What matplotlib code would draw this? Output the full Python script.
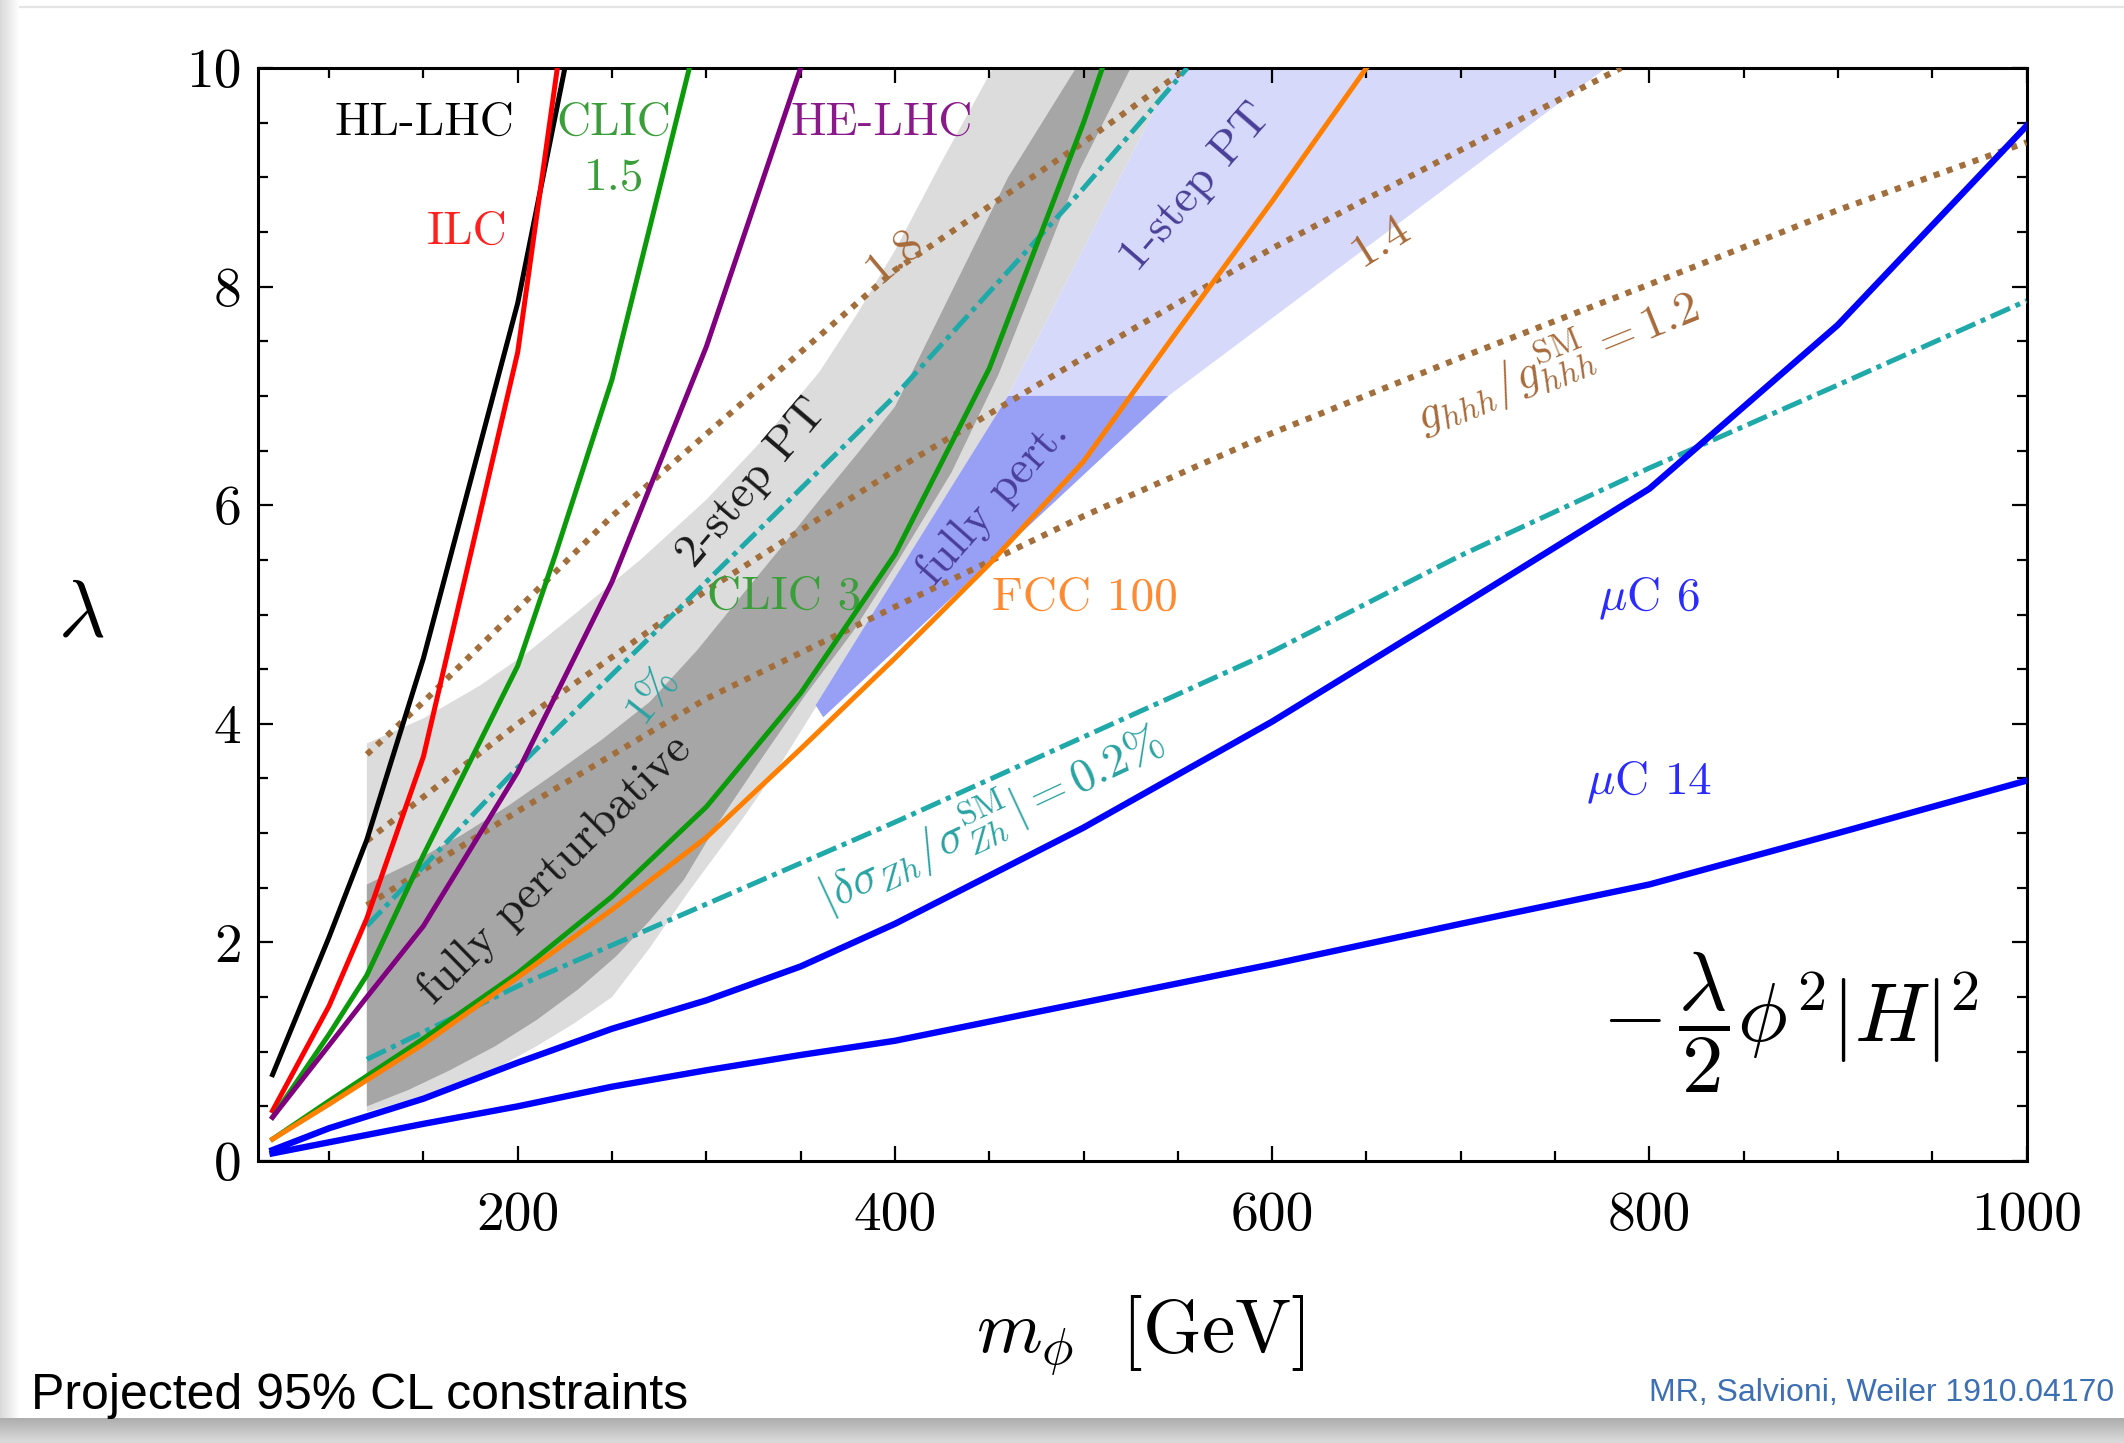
import numpy as np
import matplotlib
matplotlib.use("Agg")
import matplotlib.pyplot as plt
from matplotlib.ticker import MultipleLocator

plt.rcParams['font.family'] = 'cmr10'
plt.rcParams['mathtext.fontset'] = 'cm'
plt.rcParams['axes.formatter.use_mathtext'] = True
plt.rcParams['axes.unicode_minus'] = False

# ---- projected 95% CL bounds: m_phi [GeV] vs lambda ----
m_hllhc = [70, 100, 120, 150, 200, 225]
lam_hllhc = [0.79, 2.05, 2.94, 4.6, 7.85, 10.0]

m_ilc = [70, 100, 120, 150, 200, 221]
lam_ilc = [0.46, 1.42, 2.22, 3.7, 7.4, 10.0]

m_clic15 = [70, 100, 120, 150, 200, 220, 250, 291]
lam_clic15 = [0.4, 1.16, 1.7, 2.8, 4.53, 5.55, 7.15, 10.0]

m_helhc = [70, 120, 150, 200, 250, 300, 350]
lam_helhc = [0.4, 1.5, 2.15, 3.56, 5.3, 7.45, 10.0]

m_clic3 = [70, 100, 150, 200, 250, 300, 350, 400, 450, 500, 510]
lam_clic3 = [0.2, 0.55, 1.12, 1.72, 2.42, 3.24, 4.28, 5.55, 7.25, 9.5, 10.0]

m_fcc = [70, 100, 150, 200, 250, 300, 350, 400, 450, 500, 550, 600, 650]
lam_fcc = [0.2, 0.52, 1.07, 1.68, 2.3, 2.96, 3.77, 4.6, 5.46, 6.4, 7.6, 8.78, 10.0]

m_muc6 = [70, 100, 150, 200, 250, 300, 350, 400, 500, 600, 700, 800, 900, 1000]
lam_muc6 = [0.1, 0.3, 0.57, 0.9, 1.21, 1.47, 1.78, 2.17, 3.05, 4.02, 5.08, 6.15, 7.65, 9.47]

m_muc14 = [70, 150, 200, 250, 300, 350, 400, 500, 600, 700, 800, 900, 1000]
lam_muc14 = [0.07, 0.34, 0.5, 0.68, 0.83, 0.97, 1.1, 1.45, 1.8, 2.17, 2.53, 3.0, 3.48]

# sigma_Zh contours
m_zh1 = [120, 200, 300, 400, 500, 555]
lam_zh1 = [2.15, 3.6, 5.3, 7.0, 8.9, 10.0]
m_zh02 = [120, 150, 200, 300, 400, 500, 600, 700, 800, 900, 1000]
lam_zh02 = [0.93, 1.18, 1.6, 2.35, 3.1, 3.88, 4.66, 5.54, 6.34, 7.1, 7.87]

# g_hhh / g_hhh^SM contours
m_g18 = [120, 150, 200, 250, 300, 400, 500, 555]
lam_g18 = [3.72, 4.2, 5.05, 5.9, 6.65, 8.15, 9.32, 10.0]
m_g14 = [120, 200, 300, 400, 500, 600, 700, 785]
lam_g14 = [2.93, 4.0, 5.22, 6.32, 7.35, 8.35, 9.25, 10.0]
m_g12 = [120, 200, 300, 400, 500, 600, 700, 800, 900, 1000]
lam_g12 = [2.34, 3.2, 4.23, 5.07, 5.9, 6.66, 7.35, 8.02, 8.7, 9.32]

# regions
twostep_up_m = [120, 120, 150, 180, 205, 230, 265, 300, 330, 360, 380, 400, 425, 452]
twostep_up_lam = [0.45, 3.82, 4.05, 4.35, 4.65, 5.0, 5.5, 6.05, 6.6, 7.22, 7.75, 8.33, 9.15, 10.0]
twostep_right_m = [549, 460, 358]
twostep_right_lam = [10.0, 7.0, 4.15]
twostep_low_m = [120, 145, 165, 190, 210, 230, 250, 270, 290, 305, 320, 340]
twostep_low_lam = [0.45, 0.57, 0.68, 0.86, 1.05, 1.26, 1.5, 1.95, 2.45, 2.8, 3.15, 3.65]

fp_up_m = [120, 120, 145, 170, 195, 220, 245, 270, 295, 320, 340, 360, 380, 400, 430, 460, 496]
fp_up_lam = [0.5, 2.53, 2.74, 2.98, 3.25, 3.55, 3.86, 4.2, 4.67, 5.2, 5.62, 6.05, 6.47, 6.9, 7.95, 9.0, 10.0]
fp_low_m = [120, 142, 164, 188, 210, 232, 252, 270, 288, 305, 328, 352, 378, 402, 430, 455, 479, 498, 525]
fp_low_lam = [0.5, 0.65, 0.83, 1.05, 1.29, 1.57, 1.87, 2.2, 2.57, 3.06, 3.65, 4.25, 4.85, 5.5, 6.3, 7.2, 8.24, 9.07, 10.0]

onestep_m = [460, 549, 777, 545]
onestep_lam = [7.0, 10.0, 10.0, 7.0]
fullypert_m = [358, 460, 545, 362]
fullypert_lam = [4.17, 7.0, 7.0, 4.06]

xtick_vals = [200, 400, 600, 800, 1000]
ytick_vals = [0, 2, 4, 6, 8, 10]

W, H = 2124, 1443
fig = plt.figure(figsize=(W / 200, H / 200), dpi=200)

# card background with soft shadow
bg = fig.add_axes([0, 0, 1, 1], zorder=-5)
bg.imshow(np.linspace(0.85, 1.0, 20)[None, :], cmap='gray', vmin=0, vmax=1,
          extent=[0, 20, H, 0], aspect='auto')
bg.imshow(np.linspace(0.68, 0.86, 28)[:, None], cmap='gray', vmin=0, vmax=1,
          extent=[0, W, H, H - 25], aspect='auto')
bg.plot([20, W], [7, 7], color='#e4e4e4', lw=0.8)
bg.set_xlim(0, W)
bg.set_ylim(H, 0)
bg.axis('off')

ax = fig.add_axes([0.12166, 0.19542, 0.83244, 0.75746])

ax.fill(twostep_up_m + twostep_right_m + twostep_low_m[::-1],
        twostep_up_lam + twostep_right_lam + twostep_low_lam[::-1],
        color='#dcdcdc', lw=0, zorder=1)
ax.fill(fp_up_m + fp_low_m[::-1], fp_up_lam + fp_low_lam[::-1],
        color='#a6a6a6', lw=0, zorder=1.2)
ax.fill(onestep_m, onestep_lam, color='#d6d9fa', lw=0, zorder=1)
ax.fill(fullypert_m, fullypert_lam, color='#98a0f6', lw=0, zorder=1.3)

dot = (0, (1, 1.25))
dashdot = (0, (4.2, 1.2, 1.0, 1.2))
brown = '#a26e3c'
cyan = '#1fa9a9'
for m, l in [(m_g18, lam_g18), (m_g14, lam_g14), (m_g12, lam_g12)]:
    ax.plot(m, l, color=brown, lw=2.2, ls=dot, dash_capstyle='butt', zorder=3)
for m, l in [(m_zh1, lam_zh1), (m_zh02, lam_zh02)]:
    ax.plot(m, l, color=cyan, lw=1.8, ls=dashdot, dash_capstyle='butt', zorder=3)

lw = 1.8
ax.plot(m_hllhc, lam_hllhc, color='black', lw=lw, zorder=4)
ax.plot(m_ilc, lam_ilc, color='#ff0000', lw=lw, zorder=4)
ax.plot(m_clic15, lam_clic15, color='#0a9a0a', lw=lw, zorder=4)
ax.plot(m_helhc, lam_helhc, color='#800080', lw=lw, zorder=4)
ax.plot(m_clic3, lam_clic3, color='#0a9a0a', lw=lw, zorder=4)
ax.plot(m_fcc, lam_fcc, color='#ff7f00', lw=lw, zorder=4)
ax.plot(m_muc6, lam_muc6, color='#0000ff', lw=2.3, zorder=4)
ax.plot(m_muc14, lam_muc14, color='#0000ff', lw=2.3, zorder=4)

fs = 17
ax.text(150.5, 9.5, 'HL-LHC', color='black', fontsize=fs, ha='center', va='center')
ax.text(251, 9.5, 'CLIC', color='#3a9f3a', fontsize=fs, ha='center', va='center')
ax.text(251, 8.99, '1.5', color='#3a9f3a', fontsize=fs, ha='center', va='center')
ax.text(173, 8.5, 'ILC', color='#ff2020', fontsize=fs, ha='center', va='center')
ax.text(393, 9.5, 'HE-LHC', color='#8a1a8a', fontsize=fs, ha='center', va='center')
ax.text(341, 5.16, 'CLIC 3', color='#3a9f3a', fontsize=fs, ha='center', va='center')
ax.text(500.5, 5.15, 'FCC 100', color='#ff8a30', fontsize=fs, ha='center', va='center')
ax.text(800, 5.14, r'$\mu$C 6', color='#2b2bff', fontsize=fs, ha='center', va='center')
ax.text(800, 3.46, r'$\mu$C 14', color='#2b2bff', fontsize=fs, ha='center', va='center')

rot = dict(ha='center', va='center', rotation_mode='anchor')
ax.text(219.5, 2.67, 'fully perturbative', color='#1a1a1a', fontsize=fs, rotation=44.5, zorder=2, **rot)
ax.text(324, 6.2, '2-step PT', color='#1a1a1a', fontsize=fs, rotation=49.5, zorder=2, **rot)
ax.text(452, 6.03, 'fully pert.', color='#4a3f98', fontsize=fs, rotation=48.5, zorder=2, **rot)
ax.text(559.6, 8.9, '1-step PT', color='#4a3f98', fontsize=fs, rotation=49, zorder=2, **rot)
ax.text(400, 8.28, '1.8', color='#a86a3a', fontsize=fs, rotation=40, zorder=2, **rot)
ax.text(658, 8.42, '1.4', color='#a86a3a', fontsize=fs, rotation=32, zorder=2, **rot)
ax.text(751, 7.31, r'$g_{hhh}/g_{hhh}^{\rm SM} = 1.2$', color='#a86a3a', fontsize=fs,
        rotation=22, zorder=2, **rot)
ax.text(271, 4.27, '1%', color='#2aa3a3', fontsize=fs - 1, rotation=52, zorder=2, **rot)
ax.text(451, 3.13, r'$|\delta\sigma_{Zh}/\sigma_{Zh}^{\rm SM}| = 0.2\%$', color='#2aa3a3',
        fontsize=fs, rotation=25, zorder=2, **rot)
ax.text(875, 1.27, r'$-\,\dfrac{\lambda}{2}\phi^2|H|^2$', color='black', fontsize=30,
        ha='center', va='center')

ax.set_xlim(62.5, 1000)
ax.set_ylim(0, 10)
ax.set_xticks(xtick_vals)
ax.set_xticklabels([str(v) for v in xtick_vals])
ax.set_yticks(ytick_vals)
ax.set_yticklabels([str(v) for v in ytick_vals])
ax.xaxis.set_minor_locator(MultipleLocator(50))
ax.yaxis.set_minor_locator(MultipleLocator(0.5))
ax.tick_params(which='both', direction='in', top=True, right=True, width=0.8, labelsize=20)
ax.tick_params(which='major', length=5.5)
ax.tick_params(which='minor', length=3.5)
ax.tick_params(axis='x', pad=11)
ax.tick_params(axis='y', pad=6)
for s in ax.spines.values():
    s.set_linewidth(1.1)

fig.text(1140 / W, 1 - 1336 / H, r'$m_\phi\ \ [\mathrm{GeV}]$', fontsize=27,
         ha='center', va='center')
fig.text(81 / W, 1 - 616 / H, r'$\lambda$', fontsize=29, ha='center', va='center')

fig.text(31 / W, 1 - 1409 / H, 'Projected 95% CL constraints', family='Liberation Sans',
         fontsize=18, ha='left', va='baseline')
fig.text(2114 / W, 1 - 1401 / H, 'MR, Salvioni, Weiler 1910.04170', family='Liberation Sans',
         fontsize=11.5, color='#3d6fb4', ha='right', va='baseline')

fig.savefig('out.png', dpi=200)
